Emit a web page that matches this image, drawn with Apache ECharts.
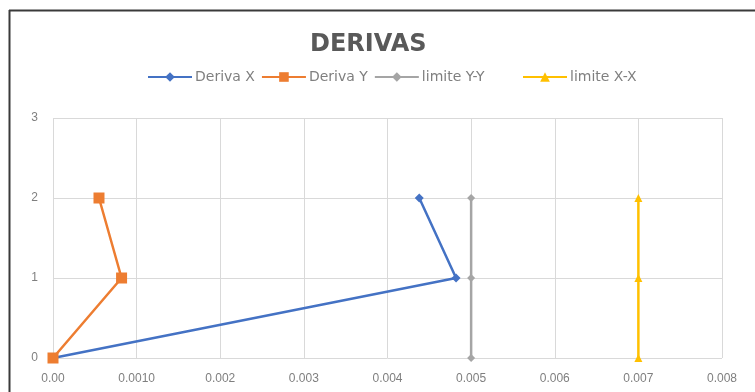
<!DOCTYPE html>
<html>
<head>
<meta charset="utf-8">
<script src="https://cdn.jsdelivr.net/npm/echarts@6/dist/echarts.min.js"></script>
<style>
  html, body { margin: 0; padding: 0; background: #fff; }
  #chart { width: 755px; height: 392px; }
</style>
</head>
<body>
<div id="chart"></div>
<script>
// Storey levels and drift values
const levels = [0, 1, 2];
const derivaX = [0, 0.00482, 0.00438];
const derivaY = [0, 0.00082, 0.00055];
const limiteYY = [0.005, 0.005, 0.005];
const limiteXX = [0.007, 0.007, 0.007];
const xTickLabels = ['0.00', '0.0010', '0.002', '0.003', '0.004', '0.005', '0.006', '0.007', '0.008'];

const pairs = (xs) => xs.map((x, i) => [x, levels[i]]);

const chart = echarts.init(document.getElementById('chart'));
const font = '"Liberation Sans", Arial, sans-serif';
const wideFont = '"DejaVu Sans", sans-serif';
const legendText = { fontFamily: wideFont, fontSize: 14, color: '#7f7f7f', padding: [0, 0, 0, -2] };

chart.setOption({
  animation: false,
  title: {
    text: 'DERIVAS',
    left: 305,
    top: 28,
    textStyle: { fontFamily: wideFont, fontSize: 24, fontWeight: 'bold', color: '#595959' }
  },
  legend: [
    {
      top: 65,
      left: 142,
      itemWidth: 44,
      itemHeight: 12,
      itemGap: 6,
      textStyle: legendText,
      data: ['Deriva X', 'Deriva Y', 'limite Y-Y']
    },
    {
      top: 65,
      left: 517,
      itemWidth: 44,
      itemHeight: 12,
      textStyle: legendText,
      data: ['limite X-X']
    }
  ],
  grid: { left: 53, right: 33, top: 118, bottom: 34 },
  xAxis: {
    type: 'value',
    min: 0,
    max: 0.008,
    interval: 0.001,
    axisLine: { show: false },
    axisTick: { show: false },
    splitLine: { show: true, lineStyle: { color: '#d9d9d9', width: 1 } },
    axisLabel: {
      margin: 15,
      fontFamily: font,
      fontSize: 12,
      color: '#7f7f7f',
      formatter: (v) => xTickLabels[Math.round(v / 0.001)]
    }
  },
  yAxis: {
    type: 'value',
    min: 0,
    max: 3,
    interval: 1,
    axisLine: { show: false },
    axisTick: { show: false },
    splitLine: { show: true, lineStyle: { color: '#d9d9d9', width: 1 } },
    axisLabel: { margin: 15, fontFamily: font, fontSize: 12, color: '#7f7f7f' }
  },
  graphic: [
    { type: 'line', shape: { x1: 9, y1: 10.5, x2: 755, y2: 10.5 }, style: { stroke: '#3a3a3a', lineWidth: 2 } },
    { type: 'line', shape: { x1: 9.5, y1: 10, x2: 9.5, y2: 392 }, style: { stroke: '#3a3a3a', lineWidth: 2 } }
  ],
  series: [
    {
      name: 'Deriva X', type: 'line', data: pairs(derivaX),
      symbol: 'diamond', symbolSize: 9,
      lineStyle: { color: '#4472C4', width: 2.5 },
      itemStyle: { color: '#4472C4' }
    },
    {
      name: 'Deriva Y', type: 'line', data: pairs(derivaY),
      symbol: 'rect', symbolSize: 11,
      lineStyle: { color: '#ED7D31', width: 2.5 },
      itemStyle: { color: '#ED7D31' }
    },
    {
      name: 'limite Y-Y', type: 'line', data: pairs(limiteYY),
      symbol: 'diamond', symbolSize: 8,
      lineStyle: { color: '#A5A5A5', width: 2.5 },
      itemStyle: { color: '#A5A5A5' }
    },
    {
      name: 'limite X-X', type: 'line', data: pairs(limiteXX),
      symbol: 'triangle', symbolSize: 8,
      lineStyle: { color: '#FFC000', width: 2.5 },
      itemStyle: { color: '#FFC000' }
    }
  ]
});
</script>
</body>
</html>
